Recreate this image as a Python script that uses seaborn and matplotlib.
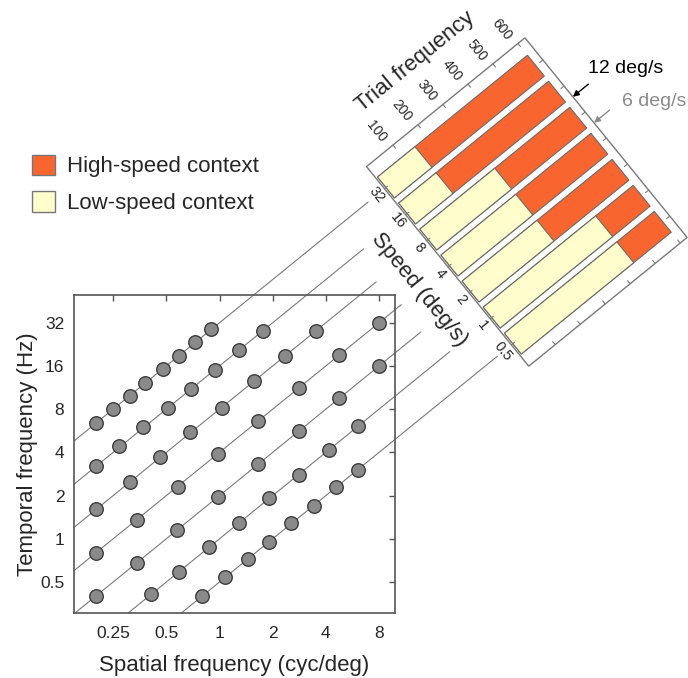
import numpy as np
import pandas as pd
import matplotlib
matplotlib.use("Agg")
import matplotlib.pyplot as plt
from matplotlib.patches import Patch, Polygon
from matplotlib.transforms import Affine2D
import seaborn as sns

sns.set_style("white")
plt.rcParams["font.family"] = ["Liberation Sans", "DejaVu Sans"]

# ============================================
# DATA
# ============================================

speeds = [32, 16, 8, 4, 2, 1, 0.5]
speed_labels = ["32", "16", "8", "4", "2", "1", "0.5"]

# stimuli on each iso-speed line: spatial freq (cyc/deg), temporal freq (Hz)
sf_32 = [0.20, 0.25, 0.31, 0.38, 0.48, 0.59, 0.73, 0.90]
tf_32 = [6.4, 8.0, 9.9, 12.2, 15.2, 18.9, 23.4, 28.7]
sf_16 = [0.20, 0.27, 0.37, 0.51, 0.69, 0.94, 1.29, 1.76]
tf_16 = [3.2, 4.4, 6.0, 8.1, 11.0, 15.0, 20.6, 28.2]
sf_8 = [0.20, 0.31, 0.46, 0.68, 1.03, 1.57, 2.34, 3.52]
tf_8 = [1.6, 2.5, 3.7, 5.5, 8.2, 12.5, 18.7, 28.2]
sf_4 = [0.20, 0.34, 0.58, 0.98, 1.64, 2.80, 4.76, 8.0]
tf_4 = [0.8, 1.35, 2.3, 3.9, 6.6, 11.2, 19.0, 32.0]
sf_2 = [0.20, 0.34, 0.575, 0.98, 1.64, 2.80, 4.76, 8.0]
tf_2 = [0.4, 0.68, 1.15, 1.96, 3.3, 5.6, 9.5, 16.0]
sf_1 = [0.41, 0.59, 0.87, 1.28, 1.91, 2.80, 4.14, 6.06]
tf_1 = [0.41, 0.59, 0.87, 1.28, 1.91, 2.80, 4.14, 6.06]
sf_05 = [0.80, 1.08, 1.44, 1.91, 2.55, 3.41, 4.56, 6.06]
tf_05 = [0.40, 0.54, 0.72, 0.95, 1.28, 1.70, 2.28, 3.03]

x_ticks = [0.25, 0.5, 1, 2, 4, 8]
x_tick_labels = ["0.25", "0.5", "1", "2", "4", "8"]
y_ticks = [0.5, 1, 2, 4, 8, 16, 32]
y_tick_labels = ["0.5", "1", "2", "4", "8", "16", "32"]

# trial frequency per speed (stacked: low-speed part + high-speed part)
trials_total = [600, 600, 600, 600, 600, 600, 600]
trials_low = [150, 150, 300, 300, 300, 450, 450]
trial_ticks = [100, 200, 300, 400, 500, 600]

context_speeds = [12, 6]
context_labels = ["12 deg/s", "6 deg/s"]

orange = "#F9652E"
yellow = "#FEFDCB"

# ============================================
# SCATTER: SF x TF
# ============================================

fig = plt.figure(figsize=(6.88, 6.78), dpi=100)
ax = fig.add_axes([0.1076, 0.0959, 0.4666, 0.469])

sf_all = sf_32 + sf_16 + sf_8 + sf_4 + sf_2 + sf_1 + sf_05
tf_all = tf_32 + tf_16 + tf_8 + tf_4 + tf_2 + tf_1 + tf_05
dots = pd.DataFrame({"sf": sf_all, "tf": tf_all})

sns.scatterplot(data=dots, x="sf", y="tf", s=95, color="#8a8a8a",
                edgecolor="#3c3c3c", linewidth=1.0, ax=ax, zorder=3,
                legend=False)

ax.set_xscale("log", base=2)
ax.set_yscale("log", base=2)
ax.set_xlim(0.150, 9.85)
ax.set_ylim(0.304, 49.9)
ax.set_xticks(x_ticks, x_tick_labels)
ax.set_yticks(y_ticks, y_tick_labels)
ax.minorticks_off()
ax.tick_params(direction="in", top=True, right=True, length=4, width=1,
               color="#555555", labelsize=12.5, pad=7)
ax.tick_params(axis="x", pad=9.5)
for sp in ax.spines.values():
    sp.set_color("#555555")
    sp.set_linewidth(1.2)
ax.set_xlabel("Spatial frequency (cyc/deg)", fontsize=16, labelpad=10)
ax.set_ylabel("Temporal frequency (Hz)", fontsize=16, labelpad=1.5)

# ============================================
# ROTATED PANEL (bars parallel to iso-speed lines)
# ============================================

p1 = ax.transData.transform((1, 1))
p2 = ax.transData.transform((2, 2))
ppo_x, ppo_y = p2 - p1
theta = np.arctan2(ppo_y, ppo_x)
pitch = ppo_x * ppo_y / np.hypot(ppo_x, ppo_y)
k = 0.322                      # pixels per trial
panel_sf = 8.75                # where bar "32" starts on its iso-speed line
ox, oy = ax.transData.transform((panel_sf, 32 * panel_sf))
T = Affine2D(np.array([[k * np.cos(theta), pitch * np.sin(theta), ox],
                       [k * np.sin(theta), -pitch * np.cos(theta), oy],
                       [0, 0, 1]]))
rot = np.degrees(theta)
a_lo, a_hi = -6, 628
i_lo, i_hi = -0.85, 6.82

bax = fig.add_axes([0, 0, 1, 1])
bars = pd.DataFrame({"speed": speed_labels, "total": trials_total,
                     "low": trials_low})
sns.barplot(data=bars, y="speed", x="total", order=speed_labels,
            orient="h", color=orange, saturation=1, width=0.8,
            edgecolor="#6a6a6a", linewidth=0.8, errorbar=None, ax=bax,
            transform=T)
sns.barplot(data=bars, y="speed", x="low", order=speed_labels,
            orient="h", color=yellow, saturation=1, width=0.8,
            edgecolor="#6a6a6a", linewidth=0.8, errorbar=None, ax=bax,
            transform=T)
bax.axis("off")

frame = Polygon([(a_lo, i_lo), (a_hi, i_lo), (a_hi, i_hi), (a_lo, i_hi)],
                closed=True, fill=False, edgecolor="#7a7a7a", lw=1.0,
                transform=T)
bax.add_patch(frame)

tl = 4 / pitch
for t in trial_ticks:
    bax.plot([t, t], [i_lo, i_lo + tl], color="#7a7a7a", lw=0.8, transform=T)
    bax.plot([t, t], [i_hi, i_hi - tl], color="#7a7a7a", lw=0.8, transform=T)
    bax.text(t - 12, i_lo - 0.62, str(t), rotation=rot - 90,
             rotation_mode="anchor", ha="center", va="center",
             fontsize=10, transform=T)
for i, lab in enumerate(speed_labels):
    bax.plot([a_lo, a_lo + 4 / k], [i, i], color="#7a7a7a", lw=0.8, transform=T)
    bax.plot([a_hi, a_hi - 4 / k], [i, i], color="#7a7a7a", lw=0.8, transform=T)
    bax.text(-38, i, lab, rotation=rot - 90, rotation_mode="anchor",
             ha="center", va="center", fontsize=10.5, transform=T)

bax.text(316, -2.36, "Trial frequency", rotation=rot, rotation_mode="anchor",
         ha="center", va="center", fontsize=16, transform=T)
bax.text(-120, 3.0, "Speed (deg/s)", rotation=rot - 90, rotation_mode="anchor",
         ha="center", va="center", fontsize=16, transform=T)

# context speed arrows on the far edge
arrow_cols = ["black", "#8a8a8a"]
for s, c in zip(context_speeds, arrow_cols):
    ii = np.log2(32 / s)
    bax.annotate("", xy=(a_hi, ii), xycoords=T, xytext=(a_hi + 62, ii),
                 textcoords=T,
                 arrowprops=dict(arrowstyle="-|>", color=c, lw=1.0,
                                 mutation_scale=9, shrinkA=0, shrinkB=0))
fig.text(0.9096, 1 - 72.7 / 678, context_labels[0], ha="center",
         va="baseline", fontsize=14, color="black")
fig.text(0.9506, 1 - 106 / 678, context_labels[1], ha="center",
         va="baseline", fontsize=14, color="#8a8a8a")

# ============================================
# ISO-SPEED LINES (from scatter into the panel)
# ============================================

line_stop_px = [-23, -56, -67, -62, -64, -54, -20]
inv = ax.transData.inverted()
x0, _ = ax.get_xlim()
y0, _ = ax.get_ylim()
for i, (s, stop) in enumerate(zip(speeds, line_stop_px)):
    sf_start = max(x0, y0 / s)
    end_disp = T.transform((stop / k, i))
    sf_end, tf_end = inv.transform(end_disp)
    ax.plot([sf_start, sf_end], [s * sf_start, tf_end], color="#7a7a7a",
            lw=0.8, clip_on=False, zorder=1)

# ============================================
# LEGEND
# ============================================

handles = [Patch(facecolor=orange, edgecolor="#777777", lw=1),
           Patch(facecolor=yellow, edgecolor="#777777", lw=1)]
fig.legend(handles, ["High-speed context", "Low-speed context"],
           loc="upper left", bbox_to_anchor=(0.046, 0.772), frameon=False,
           fontsize=16, handlelength=1.05, handleheight=1.05,
           handletextpad=0.55, labelspacing=0.62, borderpad=0,
           borderaxespad=0)

fig.savefig("out.png", dpi=100)
